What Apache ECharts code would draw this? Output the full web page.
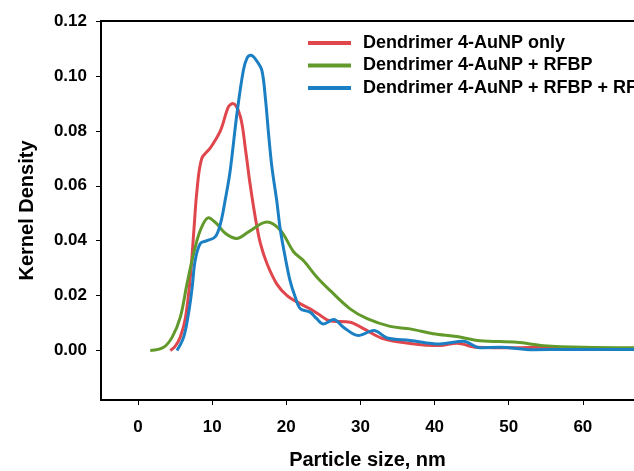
<!DOCTYPE html>
<html>
<head>
<meta charset="utf-8">
<script src="https://cdn.jsdelivr.net/npm/echarts@6/dist/echarts.min.js"></script>
<style>
html,body{margin:0;padding:0;background:#fff;}
#chart{width:634px;height:471px;}
</style>
</head>
<body>
<div id="chart"></div>
<script>
var seriesNames = ['Dendrimer 4-AuNP only', 'Dendrimer 4-AuNP + RFBP', 'Dendrimer 4-AuNP + RFBP + RFBP'];
var xTicks = [0, 10, 20, 30, 40, 50, 60];
var yTicks = [0, 0.02, 0.04, 0.06, 0.08, 0.10, 0.12];

var redX = [4.35, 5.0, 5.7, 6.4, 7.05, 7.5, 7.95, 8.6, 9.7, 11.1, 12.2, 12.8, 13.8, 14.5, 15.1, 15.8, 16.5, 17.4, 18.7, 20.1, 21.9, 23.2, 24.6, 25.5, 26.3, 28.6, 30.4, 33, 36.7, 40.7, 43, 45.7, 51, 54.2, 60, 67];
var redY = [0, 0.0015, 0.0049, 0.012, 0.0268, 0.0426, 0.0584, 0.070, 0.0736, 0.080, 0.0888, 0.090, 0.0852, 0.073, 0.0608, 0.0487, 0.039, 0.0316, 0.0243, 0.020, 0.017, 0.0152, 0.0128, 0.0112, 0.0107, 0.0103, 0.008, 0.0044, 0.0026, 0.0018, 0.0027, 0.0012, 0.001, 0.0012, 0.0006, 0.0004];

var greenX = [1.65, 3.45, 4.6, 5.7, 6.6, 7.5, 8.4, 9.5, 10.6, 11.8, 13.3, 14.9, 17.4, 19.2, 21, 22.3, 24.1, 25.9, 28.6, 30.9, 34, 36.7, 39.8, 43, 46.1, 51.1, 54.7, 60, 67];
var greenY = [0, 0.0012, 0.0049, 0.0122, 0.0243, 0.0353, 0.0438, 0.0484, 0.0462, 0.0426, 0.0408, 0.0432, 0.0468, 0.0438, 0.0359, 0.0328, 0.0268, 0.0219, 0.0152, 0.0116, 0.0088, 0.0079, 0.0061, 0.0051, 0.0036, 0.003, 0.0018, 0.0012, 0.001];

var blueX = [5.25, 6.15, 6.8, 7.3, 7.7, 8.4, 9.3, 10.4, 11.1, 11.8, 12.4, 13.35, 14.2, 14.7, 15.2, 16.0, 16.7, 17.2, 17.6, 18.05, 18.7, 19.2, 19.85, 20.5, 21.2, 21.9, 23.2, 24.1, 25.0, 26.4, 27.7, 29.7, 31.8, 33.6, 36.7, 40.7, 43.9, 46.1, 48.8, 53.3, 57.8, 67];
var blueY = [0, 0.0049, 0.0134, 0.023, 0.0328, 0.039, 0.040, 0.0414, 0.046, 0.0555, 0.065, 0.0865, 0.102, 0.1065, 0.1075, 0.1055, 0.102, 0.0912, 0.079, 0.0669, 0.0547, 0.0438, 0.034, 0.0255, 0.0195, 0.0152, 0.0140, 0.0116, 0.0097, 0.0113, 0.0085, 0.0055, 0.0073, 0.0046, 0.0037, 0.0024, 0.0034, 0.001, 0.0012, 0.0003, 0.0004, 0.0004];

var colors = ['#e0474c', '#62992b', '#1b7fc4'];

function zip(xs, ys) {
  var out = [];
  for (var i = 0; i < xs.length; i++) out.push([xs[i], ys[i]]);
  return out;
}

var font = '"Liberation Sans", Arial, sans-serif';
var chart = echarts.init(document.getElementById('chart'), null, {renderer: 'canvas'});

function mkSeries(name, xs, ys, color) {
  return {
    name: name,
    type: 'line',
    data: zip(xs, ys),
    smooth: 0.35,
    symbol: 'none',
    showSymbol: false,
    clip: true,
    lineStyle: {color: color, width: 3},
    itemStyle: {color: color}
  };
}

chart.setOption({
  animation: false,
  color: colors,
  grid: {left: 101, top: 21, bottom: 71, right: 0, show: false, outerBoundsMode: 'none', containLabel: false},
  legend: {
    orient: 'vertical',
    left: 303,
    top: 29,
    icon: 'rect',
    itemWidth: 43,
    itemHeight: 4,
    itemGap: 4.5,
    textStyle: {fontFamily: font, fontWeight: 'bold', fontSize: 18, color: '#000', padding: [0, 0, 0, 7]},
    data: seriesNames
  },
  xAxis: [{
    type: 'value',
    min: -5,
    max: 66.9,
    name: 'Particle size, nm',
    nameLocation: 'middle',
    nameGap: 50,
    nameTextStyle: {fontFamily: font, fontWeight: 'bold', fontSize: 20, color: '#000'},
    axisLine: {show: true, onZero: false, lineStyle: {color: '#000', width: 2}},
    axisTick: {show: true, length: 5, lineStyle: {color: '#000', width: 1}, customValues: xTicks},
    axisLabel: {fontFamily: font, fontWeight: 'bold', fontSize: 17, color: '#000', margin: 19, customValues: xTicks},
    splitLine: {show: false}
  }, {
    type: 'value',
    position: 'top',
    min: -5,
    max: 66.9,
    axisLine: {show: true, onZero: false, lineStyle: {color: '#000', width: 2}},
    axisTick: {show: false},
    axisLabel: {show: false},
    splitLine: {show: false}
  }],
  yAxis: {
    type: 'value',
    min: -0.018,
    max: 0.12,
    name: 'Kernel Density',
    nameLocation: 'middle',
    nameGap: 64,
    nameTextStyle: {fontFamily: font, fontWeight: 'bold', fontSize: 20, color: '#000'},
    axisLine: {show: true, onZero: false, lineStyle: {color: '#000', width: 2}},
    axisTick: {show: true, length: 5, lineStyle: {color: '#000', width: 1}, customValues: yTicks},
    axisLabel: {fontFamily: font, fontWeight: 'bold', fontSize: 17, color: '#000', margin: 14, customValues: yTicks,
      formatter: function (v) { return v.toFixed(2); }},
    splitLine: {show: false}
  },
  series: [
    mkSeries(seriesNames[0], redX, redY, colors[0]),
    mkSeries(seriesNames[1], greenX, greenY, colors[1]),
    mkSeries(seriesNames[2], blueX, blueY, colors[2])
  ]
});
</script>
</body>
</html>
